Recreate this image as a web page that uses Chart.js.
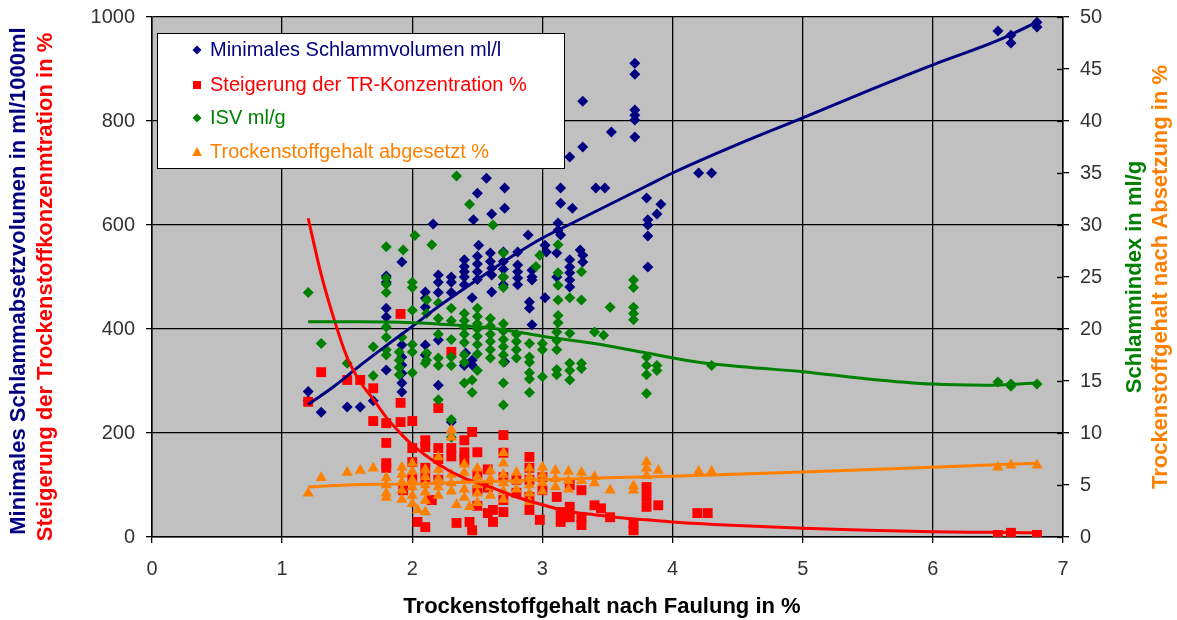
<!DOCTYPE html>
<html><head><meta charset="utf-8">
<script src="https://cdn.jsdelivr.net/npm/chart.js@4.4.1/dist/chart.umd.min.js"></script>
<style>html,body{margin:0;padding:0;background:#fff}#wrap{width:1177px;height:620px;position:relative}</style>
</head><body><div id="wrap"><canvas id="c" width="1177" height="620"></canvas></div>
<script>
// ---------- data ----------
const xTickValues = [0,1,2,3,4,5,6,7];
const leftTickValues = [0,200,400,600,800,1000];
const rightTickValues = [0,5,10,15,20,25,30,35,40,45,50];

const seriesNames = ['Minimales Schlammvolumen ml/l','Steigerung der TR-Konzentration %','ISV ml/g','Trockenstoffgehalt abgesetzt %'];

// Minimales Schlammvolumen ml/l  [x, value] (left axis)
const bluePoints = [
[1.2,280],[1.2,262],[1.3,240],[1.5,250],[1.6,250],[1.7,262],
[1.8,502],[1.8,490],[1.8,440],[1.8,423],[1.8,321],
[1.92,529],[1.92,369],[1.92,346],[1.92,331],[1.92,315],[1.92,296],[1.92,279],
[2.1,471],[2.1,459],[2.1,442],[2.1,369],[2.1,350],
[2.16,602],[2.2,504],[2.2,490],[2.2,470],[2.2,379],[2.2,292],
[2.3,500],[2.3,490],[2.3,470],[2.3,221],
[2.4,533],[2.4,520],[2.4,510],[2.4,500],[2.4,485],[2.41,354],[2.4,330],
[2.5,661],[2.47,610],[2.51,561],[2.5,540],[2.5,525],[2.5,510],[2.5,495],[2.46,460],[2.46,340],[2.46,331],
[2.57,690],[2.61,621],[2.6,546],[2.6,530],[2.61,517],[2.61,504],[2.61,471],
[2.71,671],[2.71,632],[2.7,548],[2.7,530],[2.7,515],[2.7,500],[2.7,485],[2.71,337],
[2.81,548],[2.81,523],[2.81,510],[2.81,498],[2.81,485],
[2.89,581],[2.92,513],[2.92,500],[2.92,494],[2.9,452],[2.9,440],[2.92,408],
[3.02,561],[3.03,548],[3.02,460],
[3.14,671],[3.14,642],[3.12,604],[3.12,590],[3.14,581],[3.11,546],[3.11,500],
[3.21,731],[3.23,632],[3.21,533],[3.21,519],[3.21,508],[3.21,494],[3.21,481],
[3.31,838],[3.31,750],[3.29,552],[3.31,542],[3.31,529],
[3.41,671],[3.48,671],[3.53,779],
[3.71,911],[3.71,890],[3.71,821],[3.71,811],[3.71,802],[3.71,769],
[3.8,652],[3.81,610],[3.81,600],[3.81,579],[3.81,519],
[3.91,640],[3.88,621],
[4.2,700],[4.3,700],
[6.5,973],[6.6,965],[6.6,950],[6.8,990],[6.8,981]
];

// Steigerung der TR-Konzentration %  [x, value] (left axis)
const redPoints = [
[1.2,260],[1.3,317],[1.5,302],[1.6,302],[1.7,286],[1.7,223],
[1.8,219],[1.8,181],[1.8,142],[1.8,133],
[1.91,429],[1.91,258],[1.91,221],[1.93,90],
[2.0,223],[2.0,171],[2.0,144],[2.0,113],[2.04,29],
[2.1,186],[2.1,173],[2.1,133],[2.1,113],[2.15,71],[2.1,19],
[2.2,248],[2.2,171],[2.2,150],[2.2,110],
[2.3,356],[2.3,171],[2.3,155],[2.34,27],
[2.46,202],[2.4,186],[2.4,163],[2.4,148],[2.44,29],[2.46,13],
[2.5,163],[2.5,120],[2.5,90],[2.5,60],
[2.58,130],[2.58,95],[2.62,52],[2.58,46],[2.62,29],
[2.7,196],[2.7,162],[2.7,115],[2.7,71],[2.7,48],
[2.8,110],[2.8,85],
[2.9,154],[2.9,133],[2.9,110],[2.9,77],[2.9,52],
[3.0,115],[3.0,90],[2.98,33],
[3.11,77],[3.14,48],[3.14,29],
[3.21,100],[3.21,58],[3.21,38],
[3.3,90],[3.3,38],[3.3,23],
[3.4,61],[3.45,55],[3.52,38],
[3.7,27],[3.7,13],
[3.8,96],[3.8,77],[3.8,58],[3.89,61],
[4.19,46],[4.27,46],
[6.5,4],[6.6,8],[6.8,4]
];

// ISV ml/g  [x, value] (right axis)
const greenPoints = [
[1.2,23.5],[1.3,18.6],[1.5,16.7],[1.7,18.3],[1.7,15.5],
[1.8,27.9],[1.8,24.9],[1.8,24.3],[1.8,23.5],[1.8,20.2],[1.8,19.2],[1.8,18.0],[1.8,17.5],
[1.93,27.6],[1.92,19.2],[1.9,17.8],[1.9,17.0],[1.9,16.3],[1.9,15.6],
[2.02,29.0],[2.0,24.5],[2.0,24.0],[2.0,21.8],[2.0,18.5],[2.0,17.8],[2.0,15.8],
[2.11,22.8],[2.11,21.5],[2.11,17.7],[2.11,17.0],[2.1,16.7],[2.15,28.1],
[2.2,22.5],[2.2,21.0],[2.2,19.5],[2.2,17.2],[2.2,16.5],[2.2,13.2],
[2.34,34.7],[2.3,22.0],[2.3,20.8],[2.3,19.0],[2.3,17.3],[2.3,16.5],[2.3,11.3],[2.3,9.6],
[2.44,32.0],[2.4,21.5],[2.4,20.8],[2.4,20.2],[2.4,19.5],[2.4,18.7],[2.4,17.5],[2.4,16.8],[2.4,14.8],
[2.5,22.0],[2.5,21.2],[2.5,20.5],[2.5,20.0],[2.5,19.3],[2.5,18.5],[2.5,17.6],[2.5,16.0],[2.46,15.1],[2.46,13.9],
[2.62,30.0],[2.6,21.0],[2.6,20.3],[2.6,19.5],[2.6,18.8],[2.6,18.0],[2.6,17.2],
[2.7,27.3],[2.7,25.0],[2.7,24.0],[2.7,20.5],[2.7,19.8],[2.7,19.0],[2.7,18.3],[2.7,17.5],[2.7,16.8],[2.7,14.8],[2.7,12.7],
[2.8,19.5],[2.8,18.8],[2.8,18.0],[2.8,17.2],
[2.9,18.6],[2.9,17.3],[2.9,16.8],[2.9,15.8],[2.9,15.2],[2.9,13.9],
[2.98,27.1],[2.95,26.0],
[3.0,18.6],[3.0,18.0],[3.0,15.4],
[3.12,28.1],[3.12,25.4],[3.12,24.2],[3.12,22.8],[3.12,21.3],[3.12,20.6],[3.11,19.7],[3.11,18.9],[3.11,18.0],[3.11,16.1],[3.11,15.6],
[3.21,23.0],[3.21,19.6],[3.21,16.7],[3.21,16.0],[3.21,15.1],
[3.3,25.5],[3.3,22.8],[3.3,16.7],[3.3,16.2],
[3.4,19.7],[3.47,19.4],[3.52,22.1],
[3.7,24.7],[3.7,24.0],[3.7,22.1],[3.7,21.5],[3.7,20.9],
[3.8,17.3],[3.8,16.5],[3.8,15.6],[3.8,13.8],
[3.88,16.5],[3.88,16.0],
[4.3,16.5],
[6.5,14.9],[6.6,14.7],[6.6,14.5],[6.8,14.7]
];

// Trockenstoffgehalt abgesetzt %  [x, value] (right axis)
const orangePoints = [
[1.2,4.2],[1.3,5.7],[1.5,6.2],[1.6,6.4],[1.7,6.6],
[1.8,5.7],[1.8,5.0],[1.8,4.2],[1.8,3.8],
[1.92,6.7],[1.92,6.0],[1.92,5.3],[1.92,4.5],[1.92,3.6],
[2.0,7.1],[2.0,6.3],[2.0,5.5],[2.0,4.8],[2.0,4.0],[2.0,3.2],[2.04,2.6],
[2.1,6.5],[2.1,5.8],[2.1,5.0],[2.1,4.3],[2.1,3.5],[2.1,2.4],
[2.2,7.7],[2.2,6.5],[2.2,5.6],[2.2,4.8],[2.2,4.0],
[2.3,10.3],[2.3,9.6],[2.3,6.0],[2.3,5.2],[2.3,4.4],[2.34,3.1],
[2.4,7.0],[2.4,6.2],[2.4,5.4],[2.4,4.6],[2.4,3.8],[2.44,2.9],
[2.5,6.6],[2.5,5.8],[2.5,5.0],[2.5,4.2],[2.5,3.3],
[2.6,6.4],[2.6,5.6],[2.6,4.8],[2.6,4.0],
[2.7,8.1],[2.7,7.1],[2.7,6.0],[2.7,5.2],[2.7,4.4],[2.7,3.6],
[2.8,6.2],[2.8,5.4],[2.8,4.6],
[2.9,6.6],[2.9,5.8],[2.9,5.0],[2.9,4.2],[2.9,3.4],
[3.0,6.7],[3.0,6.0],[3.0,5.2],[3.0,4.4],
[3.1,6.4],[3.1,5.6],[3.1,4.8],
[3.2,6.3],[3.2,5.4],[3.2,4.6],
[3.3,6.2],[3.3,5.4],
[3.4,5.8],[3.4,5.2],[3.52,4.5],
[3.7,4.9],[3.7,4.5],
[3.8,7.2],[3.8,6.6],[3.8,5.9],[3.89,6.4],
[4.2,6.3],[4.3,6.3],
[6.5,6.7],[6.6,6.9],[6.8,6.9]
];

// trend lines
const blueTrendX  = [1.2,1.4,1.6,1.8,2.0,2.2,2.4,2.6,2.8,3.0,3.2,3.4,3.6,3.8,4.0,4.5,5.0,5.5,6.0,6.5,6.8];
const blueTrendY  = [255,290,330,368,405,443,478,512,545,575,600,625,650,675,700,755,806,858,908,955,990];
const redTrendX   = [1.2,1.3,1.4,1.5,1.6,1.7,1.8,1.9,2.0,2.2,2.4,2.6,2.8,3.0,3.2,3.4,3.6,3.8,4.0,4.5,5.0,5.5,6.0,6.5,6.8];
const redTrendY   = [613,505,418,345,298,265,230,202,177,140,113,96,77,62,49,43,37,33,29,22,17,13,10,9,8];
const greenTrendX = [1.2,1.6,2.0,2.3,2.6,3.0,3.4,3.8,4.2,4.6,5.0,5.5,6.0,6.4,6.8];
const greenTrendY = [20.7,20.7,20.6,20.4,20.1,19.3,18.6,17.7,16.8,16.3,15.9,15.2,14.7,14.6,14.8];
const orangeTrendX = [1.2,1.5,2.0,2.5,3.0,3.5,4.0,5.0,6.0,6.8];
const orangeTrendY = [4.8,5.0,5.1,5.3,5.5,5.7,5.85,6.25,6.7,7.1];

// ---------- styling ----------
const BLUE = '#000080', RED = '#ff0000', GREEN = '#008000', ORANGE = '#ff8000';
const FONT = "'Liberation Sans', Arial, sans-serif";

const toXY = arr => arr.map(p => ({x: p[0], y: p[1]}));
const zip = (xs, ys) => xs.map((x, i) => ({x, y: ys[i]}));

const bgPlugin = {
  id: 'bg',
  beforeDraw(chart) {
    const {ctx, chartArea: a} = chart;
    ctx.save();
    ctx.fillStyle = '#c0c0c0';
    ctx.fillRect(a.left, a.top, a.width, a.height);
    ctx.restore();
  }
};

function vText(ctx, text, x, y, color) {
  ctx.save();
  ctx.translate(x, y);
  ctx.rotate(-Math.PI / 2);
  ctx.fillStyle = color;
  ctx.textAlign = 'center';
  ctx.textBaseline = 'middle';
  ctx.fillText(text, 0, 0);
  ctx.restore();
}

const decoPlugin = {
  id: 'deco',
  afterDraw(chart) {
    const {ctx, chartArea: a} = chart;
    const y2 = chart.scales.y2;
    // crossing tick marks on right axis
    ctx.save();
    ctx.strokeStyle = '#000';
    ctx.lineWidth = 1.3;
    rightTickValues.forEach(v => {
      const py = Math.round(y2.getPixelForValue(v)) + 0.5;
      ctx.beginPath(); ctx.moveTo(a.right - 6, py); ctx.lineTo(a.right, py); ctx.stroke();
    });
    ctx.restore();

    // axis titles
    const cy = (a.top + a.bottom) / 2;
    ctx.save();
    ctx.font = 'bold 22px ' + FONT;
    vText(ctx, 'Minimales Schlammabsetzvolumen in ml/1000ml', 19, cy + 4, BLUE);
    vText(ctx, 'Steigerung der Trockenstoffkonzenmtration in %', 46, cy + 10, RED);
    vText(ctx, 'Schlammindex in ml/g', 1135, cy, GREEN);
    vText(ctx, 'Trockenstoffgehalt nach Absetzung in %', 1161, cy, ORANGE);
    ctx.fillStyle = '#000';
    ctx.textAlign = 'center';
    ctx.textBaseline = 'middle';
    ctx.fillText('Trockenstoffgehalt nach Faulung in %', 602, 607);
    ctx.restore();

    // legend box
    const bx = 157, by = 33, bw = 407, bh = 135;
    ctx.save();
    ctx.fillStyle = '#fff';
    ctx.fillRect(bx, by, bw, bh);
    ctx.strokeStyle = '#000';
    ctx.lineWidth = 1;
    ctx.strokeRect(bx + 0.5, by + 0.5, bw, bh);
    const rows = [50, 85, 118, 152];
    const cols = [BLUE, RED, GREEN, ORANGE];
    const mx = 197;
    ctx.font = '20px ' + FONT;
    ctx.textBaseline = 'middle';
    ctx.textAlign = 'left';
    rows.forEach((ry, i) => {
      ctx.fillStyle = cols[i];
      ctx.beginPath();
      if (i === 0 || i === 2) {
        ctx.moveTo(mx, ry - 4.5); ctx.lineTo(mx + 4.5, ry); ctx.lineTo(mx, ry + 4.5); ctx.lineTo(mx - 4.5, ry);
      } else if (i === 1) {
        ctx.rect(mx - 4, ry - 4, 8, 8);
      } else {
        ctx.moveTo(mx, ry - 5); ctx.lineTo(mx + 5, ry + 4); ctx.lineTo(mx - 5, ry + 4);
      }
      ctx.closePath();
      ctx.fill();
      ctx.fillText(seriesNames[i], 210, ry);
    });
    ctx.restore();
  }
};

const scatterDs = (label, pts, color, style, radius, axis, order) => ({
  label, data: toXY(pts), yAxisID: axis,
  pointStyle: style, pointRadius: radius, pointHoverRadius: radius,
  backgroundColor: color, borderColor: color, borderWidth: 0,
  showLine: false, order
});
const trendDs = (label, xs, ys, color, axis, order) => ({
  label, data: zip(xs, ys), yAxisID: axis,
  showLine: true, pointRadius: 0, borderColor: color, borderWidth: 3,
  cubicInterpolationMode: 'monotone', fill: false, order
});

const plainLabel = v => String(v);
const fitVertical = w => s => { s.width = w; s.paddingTop = 0; s.paddingBottom = 0; };

new Chart(document.getElementById('c'), {
  type: 'scatter',
  data: {
    datasets: [
      scatterDs(seriesNames[0], bluePoints, BLUE, 'rectRot', 5.5, 'y', 8),
      scatterDs(seriesNames[1], redPoints, RED, 'rect', 7, 'y', 7),
      scatterDs(seriesNames[2], greenPoints, GREEN, 'rectRot', 5.5, 'y2', 6),
      scatterDs(seriesNames[3], orangePoints, ORANGE, 'triangle', 6.5, 'y2', 5),
      trendDs('trend1', blueTrendX, blueTrendY, BLUE, 'y', 4),
      trendDs('trend2', redTrendX, redTrendY, RED, 'y', 3),
      trendDs('trend3', greenTrendX, greenTrendY, GREEN, 'y2', 2),
      trendDs('trend4', orangeTrendX, orangeTrendY, ORANGE, 'y2', 1)
    ]
  },
  options: {
    responsive: false,
    animation: false,
    events: [],
    layout: {padding: {top: 17, left: 0, right: 0, bottom: 0}},
    plugins: {legend: {display: false}, tooltip: {enabled: false}},
    scales: {
      x: {
        type: 'linear', min: 0, max: 7,
        afterBuildTicks: s => { s.ticks = xTickValues.map(v => ({value: v})); },
        afterFit: s => { s.height = 83; s.paddingLeft = 0; s.paddingRight = 0; },
        ticks: {color: '#333', font: {family: FONT, size: 20}, padding: 14, callback: plainLabel},
        grid: {color: '#000', lineWidth: 1.3, tickLength: 6},
        border: {color: '#000', width: 1.5}
      },
      y: {
        type: 'linear', position: 'left', min: 0, max: 1000,
        afterBuildTicks: s => { s.ticks = leftTickValues.map(v => ({value: v})); },
        afterFit: fitVertical(152),
        ticks: {color: '#333', font: {family: FONT, size: 20}, padding: 11, callback: plainLabel},
        grid: {color: '#000', lineWidth: 1.3, tickLength: 6},
        border: {color: '#000', width: 1.5}
      },
      y2: {
        type: 'linear', position: 'right', min: 0, max: 50,
        afterBuildTicks: s => { s.ticks = rightTickValues.map(v => ({value: v})); },
        afterFit: fitVertical(114),
        ticks: {color: '#333', font: {family: FONT, size: 20}, padding: 11, callback: plainLabel},
        grid: {drawOnChartArea: false, color: '#000', lineWidth: 1.3, tickLength: 6},
        border: {color: '#000', width: 1.5}
      }
    }
  },
  plugins: [bgPlugin, decoPlugin]
});
</script>
</body></html>
